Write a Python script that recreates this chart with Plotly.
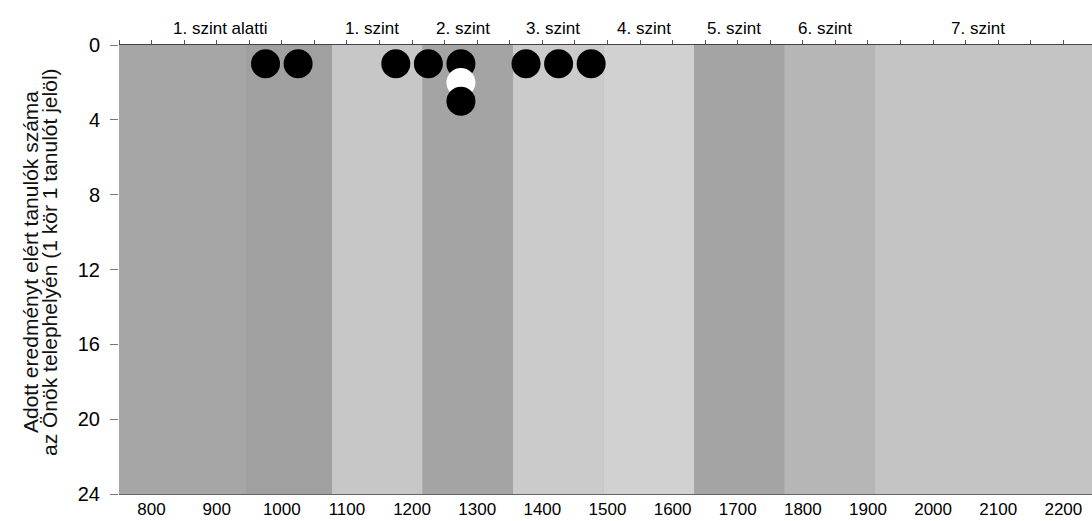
import plotly.graph_objects as go

# ---- data ----
level_names = ["1. szint alatti", "1. szint", "2. szint", "3. szint", "4. szint",
               "5. szint", "6. szint", "7. szint"]
level_lower = [750, 1077, 1216, 1355, 1494, 1633, 1772, 1911]
level_upper = [1077, 1216, 1355, 1494, 1633, 1772, 1911, 2244]
band_colors = ["#a6a6a6", "#c7c7c7", "#a4a4a4", "#cbcbcb", "#d1d1d1",
               "#a4a4a4", "#b6b6b6", "#c4c4c4"]
# subtle sub-band inside "1. szint alatti"
subband_lower = [945]
subband_upper = [1077]
subband_colors = ["#a0a0a0"]

# students (score bin centre, stacked count position, highlighted)
student_scores = [975, 1025, 1175, 1225, 1275, 1275, 1275, 1375, 1425, 1475]
student_counts = [1, 1, 1, 1, 1, 2, 3, 1, 1, 1]
student_marked = [False, False, False, False, False, True, False, False, False, False]

x_ticks = list(range(800, 2201, 100))
y_ticks = [0, 4, 8, 12, 16, 20, 24]
x_range = [750, 2244]
y_range = [24, 0]

y_title_lines = ["Adott eredményt elért tanulók száma",
                 "az Önök telephelyén (1 kör 1 tanulót jelöl)"]

FONT = "Liberation Sans, Arial, sans-serif"
W, H = 1092, 521
ML, MR, MT, MB = 119, 0, 45, 27

fig = go.Figure()

shapes = []
for lo, hi, c in zip(level_lower, level_upper, band_colors):
    shapes.append(dict(type="rect", xref="x", yref="paper", x0=lo, x1=hi, y0=0, y1=1,
                       fillcolor=c, line=dict(width=0), layer="below"))
for lo, hi, c in zip(subband_lower, subband_upper, subband_colors):
    shapes.append(dict(type="rect", xref="x", yref="paper", x0=lo, x1=hi, y0=0, y1=1,
                       fillcolor=c, line=dict(width=0), layer="below"))

fig.add_trace(go.Scatter(
    x=student_scores, y=student_counts, mode="markers",
    marker=dict(size=29, color=["white" if m else "black" for m in student_marked],
                line=dict(width=0)),
    hoverinfo="x+y", showlegend=False,
))

# invisible trace for top axis
fig.add_trace(go.Scatter(x=x_range, y=[0, 0], xaxis="x2", mode="lines",
                         line=dict(width=0), showlegend=False, hoverinfo="skip"))

pw = W - ML - MR
ph = H - MT - MB
annotations = []
for name, lo, hi in zip(level_names, level_lower, level_upper):
    annotations.append(dict(x=(lo + hi) / 2 - 8, y=1 + (MT - 28) / ph, xref="x", yref="paper",
                            text=name, showarrow=False, xanchor="center", yanchor="middle",
                            font=dict(family=FONT, size=17, color="black")))
for line, px in zip(y_title_lines, [30, 49]):
    annotations.append(dict(x=(px - ML) / pw, y=(H - MB - 262) / ph, xref="paper", yref="paper",
                            text=line, textangle=-90, showarrow=False,
                            xanchor="center", yanchor="middle",
                            font=dict(family=FONT, size=21, color="#111")))

fig.update_layout(
    width=W, height=H,
    margin=dict(l=ML, r=MR, t=MT, b=MB, autoexpand=False),
    paper_bgcolor="white", plot_bgcolor="#b0b0b0",
    shapes=shapes, annotations=annotations,
    font=dict(family=FONT, size=17, color="black"),
    xaxis=dict(range=x_range, tickvals=x_ticks, ticks="", showgrid=False, zeroline=False,
               showline=True, linecolor="#666", linewidth=1, automargin=False,
               tickfont=dict(size=17), ticklabelstandoff=0),
    xaxis2=dict(range=x_range, overlaying="x", side="top", dtick=50, tick0=800,
                ticks="outside", ticklen=4, tickcolor="#555", showticklabels=False,
                showgrid=False, zeroline=False, showline=True, linecolor="#444", linewidth=1,
                automargin=False),
    yaxis=dict(range=y_range, tickvals=y_ticks, ticks="outside", ticklen=8, tickcolor="#777",
               showgrid=False, zeroline=False, showline=False, automargin=False,
               tickfont=dict(size=20), ticklabelstandoff=6),
)

fig.write_html("out.html", config={"displayModeBar": False},
               post_script="document.body.style.margin='0';document.body.style.padding='0';")
